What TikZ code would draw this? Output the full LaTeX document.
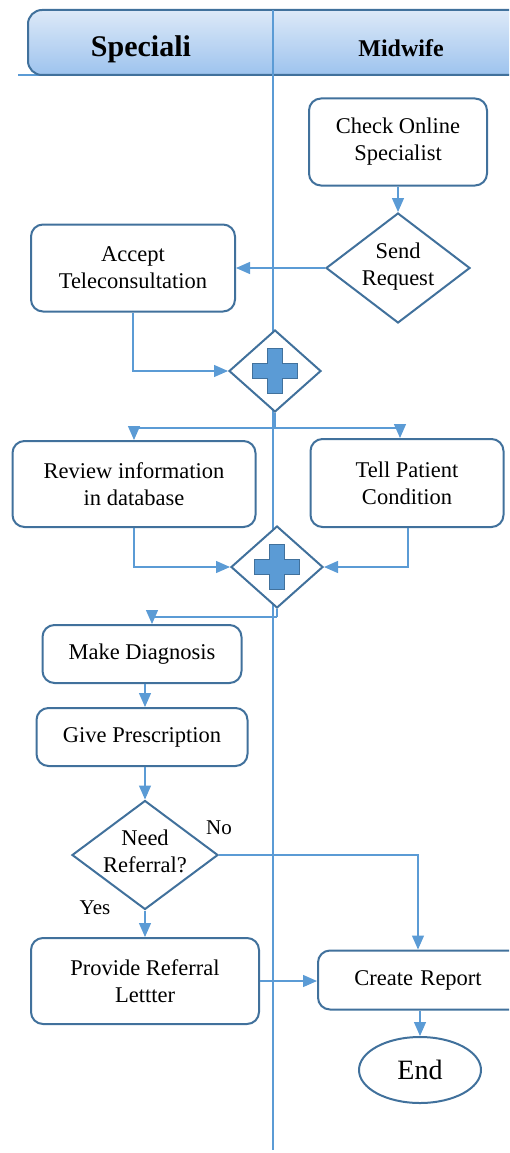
\documentclass[tikz,border=0pt]{standalone}
\usepackage{fontspec}
\setmainfont{Liberation Serif}
\usetikzlibrary{shapes.geometric,arrows.meta}
\definecolor{edge}{HTML}{41719C}
\definecolor{flow}{HTML}{5B9BD5}
\definecolor{headtop}{HTML}{DDE9F8}
\definecolor{headbot}{HTML}{9DC3EE}
\tikzset{
  task/.style={draw=edge, line width=2pt, rounded corners=12pt, fill=white,
    align=center, inner sep=0pt, font=\fontsize{22.5}{27}\selectfont},
  choice/.style={diamond, draw=edge, line width=2pt, fill=white, inner sep=0pt},
  txt/.style={align=center, inner sep=0pt, font=\fontsize{22.5}{27}\selectfont},
  flowline/.style={draw=flow, line width=1.3pt,
    -{Triangle[length=14pt,width=12pt]}},
  plainline/.style={draw=flow, line width=1.3pt},
  lane/.style={draw=flow, line width=1.2pt},
  gwplus/.pic={
    \filldraw[fill=flow, draw=edge, line width=1.5pt]
      (-7.5,-22.5) -- (7.5,-22.5) -- (7.5,-7.5) -- (22.5,-7.5) -- (22.5,7.5)
      -- (7.5,7.5) -- (7.5,22.5) -- (-7.5,22.5) -- (-7.5,7.5) -- (-22.5,7.5)
      -- (-22.5,-7.5) -- (-7.5,-7.5) -- cycle;
  }
}
\begin{document}
\begin{tikzpicture}[x=1pt, y=-1pt]
\clip (0,0) rectangle (509,1153);

% swimlane header
\draw[lane] (18,75) -- (40,75);
\draw[top color=headtop, bottom color=headbot, draw=edge, line width=2pt,
  rounded corners=14pt] (28,10) rectangle (560,75);
\node[font=\bfseries\fontsize{30}{30}\selectfont] (lanespec) at (141,49) {Speciali};
\node[font=\bfseries\fontsize{24}{24}\selectfont] (lanemid) at (401,48) {Midwife};

% lane divider
\draw[lane] (273,10) -- (273,1150);

% tasks
\node[task, minimum width=178pt, minimum height=87pt] (check) at (398,142) {Check Online\\Specialist};
\node[choice, minimum width=144pt, minimum height=110pt] (send) at (398,268) {};
\node[txt] (sendtxt) at (398,267) {Send\\Request};
\node[task, minimum width=204pt, minimum height=87pt] (accept) at (133,268) {Accept\\Teleconsultation};

\node[choice, minimum width=92pt, minimum height=82pt] (g1) at (275,371) {};
\pic at (g1) {gwplus};

\node[task, minimum width=243pt, minimum height=86pt] (review) at (134,484) {Review information\\in database};
\node[task, minimum width=193pt, minimum height=88pt] (tell) at (407,483) {Tell Patient\\Condition};

\node[choice, minimum width=92pt, minimum height=82pt] (g2) at (277,567) {};
\pic at (g2) {gwplus};

\node[task, minimum width=199pt, minimum height=58pt] (diag) at (142,654) {Make Diagnosis};
\node[task, minimum width=211pt, minimum height=58pt] (presc) at (142,737) {Give Prescription};

\node[choice, minimum width=146pt, minimum height=109pt] (need) at (145,855) {};
\node[txt] (needtxt) at (145,851) {Need\\Referral?};
\node[font=\fontsize{21}{21}\selectfont] (nolbl) at (219,828) {No};
\node[font=\fontsize{21}{21}\selectfont] (yeslbl) at (95,908) {Yes};

\node[task, minimum width=228pt, minimum height=86pt] (provide) at (145,981) {Provide Referral\\Lettter};
\node[task, minimum width=204pt, minimum height=59pt, text width=200pt] (report) at (420,980) {\hspace*{-4pt}Create Report};
\node[ellipse, draw=edge, line width=2pt, minimum width=122pt, minimum height=66pt,
  inner sep=0pt, font=\fontsize{28}{28}\selectfont] (end) at (420,1070) {End};

% connectors
\draw[flowline] (check.south) -- (send.north);
\draw[flowline] (send.west) -- (send.west -| accept.east);
\draw[flowline] (accept.south) |- (g1.west);

\coordinate (split1) at (275,428);
\draw[plainline] (g1.south) -- (split1);
\draw[flowline] (split1) -| (review.north);
\draw[flowline] (split1) -| ([xshift=-7pt]tell.north);

\draw[flowline] (review.south) |- (g2.west);
\draw[flowline] ([xshift=1pt]tell.south) |- (g2.east);

\coordinate (split2) at (277,617);
\draw[plainline] (g2.south) -- (split2);
\draw[flowline] (split2) -| ([xshift=10pt]diag.north);

\draw[flowline] ([xshift=3pt]diag.south) -- ([xshift=3pt]diag.south |- presc.north);
\draw[flowline] (presc.south -| need.north) -- (need.north);
\draw[flowline] (need.east) -| ([xshift=-2pt]report.north);
\draw[flowline] (need.south) -- (provide.north);
\draw[flowline] (provide.east) -- (provide.east -| report.west);
\draw[flowline] (report.south) -- (end.north);
\end{tikzpicture}
\end{document}
